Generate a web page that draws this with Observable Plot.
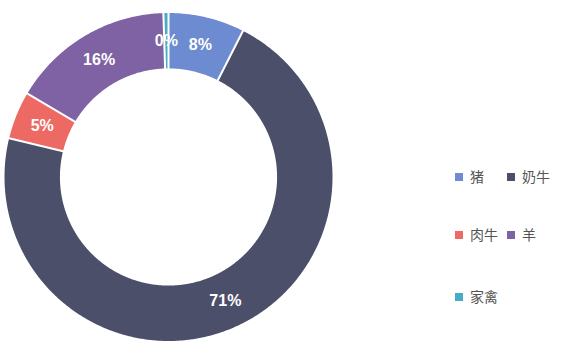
<!DOCTYPE html>
<html><head><meta charset="utf-8">
<script src="https://cdn.jsdelivr.net/npm/d3@7"></script>
<script src="https://cdn.jsdelivr.net/npm/@observablehq/plot@0.6"></script>
<style>
body{margin:0;background:#fff;}
#wrap{position:relative;width:564px;height:351px;}
.leg{position:absolute;font-family:"Noto Sans CJK SC","Noto Sans",sans-serif;font-size:14px;color:#555;line-height:16px;white-space:nowrap;}
.leg span.sw{display:inline-block;width:8px;height:8px;margin-right:7px;vertical-align:1px;}
</style>
</head><body>
<div id="wrap"></div>
<script>
const categories = ["猪", "奶牛", "肉牛", "羊", "家禽"];
const values = [7.5, 71.3, 4.7, 16.0, 0.5];
const labels = ["8%", "71%", "5%", "16%", "0%"];
const colors = ["#6c8bd0", "#4b4f69", "#ec6a63", "#7f62a4", "#47adc5"];
const legendRows = [["猪", "奶牛"], ["肉牛", "羊"], ["家禽"]];

const innerR = 0.662, outerR = 1;
const data = categories.map((c, i) => ({name: c, value: values[i], label: labels[i]}));
const arcs = d3.pie().sort(null).value(d => d.value)(data);

const poly = [];
const seps = [];
const texts = [];
arcs.forEach(a => {
  const n = Math.max(2, Math.ceil((a.endAngle - a.startAngle) / 0.008));
  const pts = [];
  for (let k = 0; k <= n; k++) {
    const t = a.startAngle + (a.endAngle - a.startAngle) * k / n;
    pts.push([outerR * Math.sin(t), outerR * Math.cos(t)]);
  }
  for (let k = n; k >= 0; k--) {
    const t = a.startAngle + (a.endAngle - a.startAngle) * k / n;
    pts.push([innerR * Math.sin(t), innerR * Math.cos(t)]);
  }
  pts.forEach(p => poly.push({name: a.data.name, x: p[0], y: p[1]}));
  const s = a.startAngle;
  seps.push({x1: innerR * Math.sin(s) * 0.98, y1: innerR * Math.cos(s) * 0.98, x2: Math.sin(s) * 1.02, y2: Math.cos(s) * 1.02});
  const m = (a.startAngle + a.endAngle) / 2, rm = (innerR + outerR) / 2;
  texts.push({x: rm * Math.sin(m), y: rm * Math.cos(m), label: a.data.label});
});

const cx = 168, cy = 176.5, R = 164;
const chart = Plot.plot({
  width: 564, height: 351,
  margin: 0,
  x: {domain: [-1, 1], range: [cx - R, cx + R], axis: null},
  y: {domain: [-1, 1], range: [cy + R, cy - R], axis: null},
  color: {domain: categories, range: colors},
  style: {background: "#fff"},
  marks: [
    Plot.line(poly, {x: "x", y: "y", z: "name", fill: "name", stroke: null, curve: "linear"}),
    Plot.link(seps, {x1: "x1", y1: "y1", x2: "x2", y2: "y2", stroke: "#fff", strokeWidth: 2}),
    Plot.text(texts, {x: "x", y: "y", text: "label", fill: "#fff", fontSize: 16, fontWeight: "bold", fontFamily: "Liberation Sans, Arial, sans-serif"})
  ]
});
const wrap = document.getElementById("wrap");
wrap.appendChild(chart);

const colOf = Object.fromEntries(categories.map((c, i) => [c, colors[i]]));
const rowY = [168, 226, 288];
const colX = [455, 507];
legendRows.forEach((row, r) => row.forEach((name, c) => {
  const d = document.createElement("div");
  d.className = "leg";
  d.style.left = colX[c] + "px";
  d.style.top = rowY[r] + "px";
  d.innerHTML = `<span class="sw" style="background:${colOf[name]}"></span>${name}`;
  wrap.appendChild(d);
}));
</script>
</body></html>
